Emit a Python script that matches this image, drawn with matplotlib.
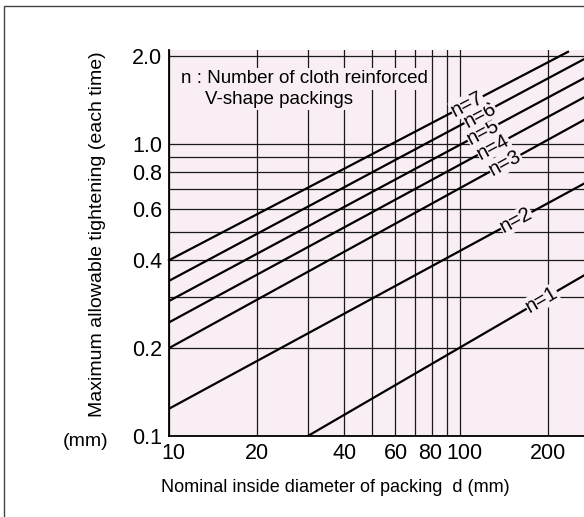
import numpy as np
import matplotlib
matplotlib.use("Agg")
import matplotlib.pyplot as plt
import matplotlib.transforms as mtransforms
from matplotlib.patches import Rectangle

plt.rcParams["font.family"] = ["Liberation Sans", "DejaVu Sans"]

# number of packings and the end points of each line (d in mm, tightening in mm)
n_values = [1, 2, 3, 4, 5, 6, 7]
d_start = [30, 10, 10, 10, 10, 10, 10]
t_start = [0.1, 0.124, 0.20, 0.245, 0.29, 0.34, 0.40]
d_end = [300, 300, 300, 300, 300, 300, 235]
t_end = [0.38, 0.78, 1.29, 1.54, 1.79, 2.08, 2.07]
# where along d each "n=" label sits
label_d = [191, 156, 143, 130, 120, 117, 106]

x_ticks = [10, 20, 40, 60, 80, 100, 200]
x_grid = [30, 50, 70, 90]
y_ticks = [0.1, 0.2, 0.4, 0.6, 0.8, 1.0, 2.0]
y_grid = [0.3, 0.5, 0.7, 0.9]

bg = "#F8EEF4"
W, H = 584, 517

fig = plt.figure(figsize=(W / 100, H / 100), dpi=100)
fig.patches.append(Rectangle((3.5 / W, -0.1), 1.2, (H - 5.5) / H + 0.1,
                             transform=fig.transFigure, fill=False,
                             edgecolor="#444444", lw=1.0))

ax = fig.add_axes([169 / W, 81 / H, 415 / W, 386 / H])
ax.set_facecolor(bg)
ax.set_xscale("log")
ax.set_yscale("log")
ax.set_xlim(10, 10 ** (1 + 415 / 291))
ax.set_ylim(0.1, 2.1)

ax.set_xticks(x_ticks, [str(v) for v in x_ticks])
ax.set_xticks(x_grid, minor=True)
ax.set_yticks(y_ticks, ["%.1f" % v for v in y_ticks])
ax.set_yticks(y_grid, minor=True)
ax.xaxis.set_minor_formatter(plt.NullFormatter())
ax.yaxis.set_minor_formatter(plt.NullFormatter())
ax.tick_params(which="both", length=0, labelsize=15.5, pad=5, colors="black")
ax.grid(True, which="both", color="#1a1a1a", lw=0.9)
ax.set_axisbelow(True)

# nudge a few crowded tick labels sideways, as in the original
nudge = {"10": 4, "80": -2, "100": 4}
for lab in ax.get_xticklabels():
    dx = nudge.get(lab.get_text(), 0)
    if dx:
        shift = mtransforms.ScaledTranslation(dx / 100, 0, fig.dpi_scale_trans)
        lab.set_transform(lab.get_transform() + shift)

for side in ["top", "right"]:
    ax.spines[side].set_visible(False)
for side in ["left", "bottom"]:
    ax.spines[side].set_linewidth(1.3)

fig.canvas.draw()
for n, x0, y0, x1, y1, xl in zip(n_values, d_start, t_start, d_end, t_end, label_d):
    ax.plot([x0, x1], [y0, y1], color="black", lw=1.6, zorder=3,
            clip_on=(n != 7))
    slope = np.log10(y1 / y0) / np.log10(x1 / x0)
    yl = y0 * (xl / x0) ** slope
    p0 = ax.transData.transform((x0, y0))
    p1 = ax.transData.transform((x1, y1))
    angle = np.degrees(np.arctan2(p1[1] - p0[1], p1[0] - p0[0]))
    ax.text(xl, yl, "n=%d" % n, rotation=angle, rotation_mode="anchor",
            ha="center", va="center", fontsize=14.5, zorder=5,
            bbox=dict(boxstyle="square,pad=0.02", fc=bg, ec="none"))

box = dict(boxstyle="square,pad=0.15", fc=bg, ec="none")
ax.text(0.028, 0.925, "n : Number of cloth reinforced",
        transform=ax.transAxes, fontsize=13.5, va="center", ha="left",
        bbox=box, zorder=5)
ax.text(0.087, 0.873, "V-shape packings", transform=ax.transAxes,
        fontsize=13.5, va="center", ha="left", bbox=box, zorder=5)

fig.text(98 / W, 1 - 234 / H, "Maximum allowable tightening (each time)",
         rotation=90, ha="center", va="center", fontsize=14)
fig.text(335 / W, 1 - 487 / H, "Nominal inside diameter of packing  d (mm)",
         ha="center", va="center", fontsize=13)
fig.text(86 / W, 1 - 441 / H, "(mm)", ha="center", va="center", fontsize=14)

fig.savefig("out.png", dpi=100)
